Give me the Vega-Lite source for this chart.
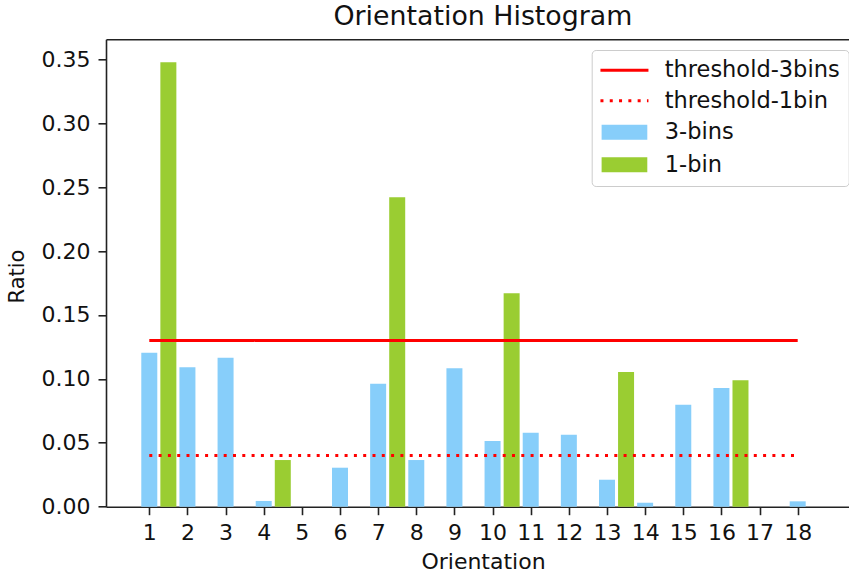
{
  "$schema": "https://vega.github.io/schema/vega-lite/v6.json",
  "width": 743,
  "height": 467.4,
  "autosize": {"type": "none"},
  "padding": {"left": 106, "top": 39.3, "right": 0, "bottom": 67.3},
  "background": "white",
  "title": {
    "text": "Orientation Histogram",
    "fontSize": 26.8,
    "fontWeight": "normal",
    "font": "DejaVu Sans",
    "color": "#111111",
    "anchor": "middle",
    "dx": 5.4,
    "dy": 23,
    "offset": 11,
    "baseline": "alphabetic"
  },
  "resolve": {"axis": {"x": "independent", "y": "independent"}},
  "datasets": {
    "bars": [
      {"orientation": 1, "series": "3-bins", "ratio": 0.1205},
      {"orientation": 2, "series": "3-bins", "ratio": 0.109},
      {"orientation": 3, "series": "3-bins", "ratio": 0.1166},
      {"orientation": 4, "series": "3-bins", "ratio": 0.0045},
      {"orientation": 5, "series": "3-bins", "ratio": 0},
      {"orientation": 6, "series": "3-bins", "ratio": 0.0305},
      {"orientation": 7, "series": "3-bins", "ratio": 0.0962},
      {"orientation": 8, "series": "3-bins", "ratio": 0.0365},
      {"orientation": 9, "series": "3-bins", "ratio": 0.1083},
      {"orientation": 10, "series": "3-bins", "ratio": 0.0514},
      {"orientation": 11, "series": "3-bins", "ratio": 0.0579},
      {"orientation": 12, "series": "3-bins", "ratio": 0.0563},
      {"orientation": 13, "series": "3-bins", "ratio": 0.0211},
      {"orientation": 14, "series": "3-bins", "ratio": 0.0031},
      {"orientation": 15, "series": "3-bins", "ratio": 0.0798},
      {"orientation": 16, "series": "3-bins", "ratio": 0.0929},
      {"orientation": 17, "series": "3-bins", "ratio": 0},
      {"orientation": 18, "series": "3-bins", "ratio": 0.0042},
      {"orientation": 1, "series": "1-bin", "ratio": 0.3477},
      {"orientation": 4, "series": "1-bin", "ratio": 0.0365},
      {"orientation": 7, "series": "1-bin", "ratio": 0.242},
      {"orientation": 10, "series": "1-bin", "ratio": 0.167},
      {"orientation": 13, "series": "1-bin", "ratio": 0.1054},
      {"orientation": 16, "series": "1-bin", "ratio": 0.0989}
    ],
    "thresholds": [
      {"series": "threshold-3bins", "value": 0.13, "start": 1, "end": 18},
      {"series": "threshold-1bin", "value": 0.04, "start": 1, "end": 18}
    ]
  },
  "layer": [
    {
      "data": {"name": "bars"},
      "transform": [{"filter": "datum.series === '3-bins'"}],
      "mark": {"type": "bar", "width": 16},
      "encoding": {
        "x": {
          "field": "orientation",
          "type": "quantitative",
          "scale": {"domain": [-0.135, 19.345], "nice": false, "zero": false, "padding": 0},
          "axis": {
            "orient": "bottom",
            "values": [1, 2, 3, 4, 5, 6, 7, 8, 9, 10, 11, 12, 13, 14, 15, 16, 17, 18],
            "format": "d",
            "labelPadding": 8,
            "labelOverlap": false,
            "labelFlush": false,
            "title": "Orientation",
            "titleX": 377,
            "titleY": 61.3,
            "titleBaseline": "alphabetic",
            "titleFontSize": 22
          }
        },
        "y": {
          "field": "ratio",
          "type": "quantitative",
          "scale": {"domain": [0, 0.3656], "nice": false, "padding": 0},
          "axis": {
            "orient": "left",
            "values": [0, 0.05, 0.1, 0.15, 0.2, 0.25, 0.3, 0.35],
            "format": ".2f",
            "labelPadding": 8,
            "labelFlush": false,
            "title": "Ratio",
            "titleX": -82.7,
            "titleY": 236.7,
            "titleBaseline": "alphabetic",
            "titleFontSize": 21
          }
        },
        "color": {
          "field": "series",
          "type": "nominal",
          "scale": {
            "domain": ["threshold-3bins", "threshold-1bin", "3-bins", "1-bin"],
            "range": ["#ff0000", "#ff0000", "#87cefa", "#9acd32"]
          },
          "legend": {
            "orient": "none",
            "legendX": 485.7,
            "legendY": 10.7,
            "title": null,
            "padding": 9,
            "fillColor": "white",
            "strokeColor": "#cccccc",
            "cornerRadius": 4,
            "labelFontSize": 22.5,
            "labelFont": "DejaVu Sans",
            "labelColor": "#111111",
            "labelLimit": 400,
            "symbolSize": 100,
            "symbolStrokeWidth": 3,
            "symbolOffset": 12.5,
            "labelOffset": 29,
            "rowPadding": 7.5,
            "encode": {
              "symbols": {
                "update": {
                  "shape": {"signal": "(datum.value === '3-bins' || datum.value === '1-bin') ? 'M-4.27,-1.2H4.27V1.2H-4.27Z' : 'M-4.8,0H4.8'"},
                  "fill": {"signal": "datum.value === '3-bins' ? '#87cefa' : (datum.value === '1-bin' ? '#9acd32' : 'transparent')"},
                  "stroke": {"signal": "(datum.value === 'threshold-3bins' || datum.value === 'threshold-1bin') ? '#ff0000' : 'transparent'"},
                  "strokeDash": {"signal": "datum.value === 'threshold-1bin' ? [3, 6.3] : [1, 0]"},
                  "strokeWidth": {"value": 3},
                  "opacity": {"value": 1},
                  "fillOpacity": {"value": 1},
                  "strokeOpacity": {"value": 1}
                }
              }
            }
          }
        }
      }
    },
    {
      "data": {"name": "bars"},
      "transform": [{"filter": "datum.series === '1-bin'"}],
      "mark": {"type": "bar", "width": 16, "xOffset": 19.07},
      "encoding": {
        "x": {"field": "orientation", "type": "quantitative", "axis": null},
        "y": {"field": "ratio", "type": "quantitative", "axis": null},
        "color": {"field": "series", "type": "nominal"}
      }
    },
    {
      "data": {"name": "thresholds"},
      "mark": {"type": "rule", "strokeWidth": 3, "strokeCap": "butt"},
      "encoding": {
        "x": {
          "field": "start",
          "type": "quantitative",
          "axis": {"orient": "top", "domain": true, "ticks": false, "labels": false, "title": null}
        },
        "x2": {"field": "end"},
        "y": {"field": "value", "type": "quantitative", "axis": null},
        "color": {"field": "series", "type": "nominal"},
        "strokeDash": {
          "field": "series",
          "type": "nominal",
          "scale": {"domain": ["threshold-3bins", "threshold-1bin"], "range": [[1, 0], [3, 6.3]]},
          "legend": null
        }
      }
    }
  ],
  "config": {
    "view": {"stroke": null},
    "font": "DejaVu Sans",
    "axis": {
      "grid": false,
      "domainColor": "#222222",
      "tickColor": "#222222",
      "labelColor": "#111111",
      "titleColor": "#111111",
      "domainWidth": 1.6,
      "tickWidth": 1.6,
      "tickSize": 8,
      "labelFontSize": 22,
      "titleFontSize": 22,
      "labelFont": "DejaVu Sans",
      "titleFont": "DejaVu Sans",
      "titleFontWeight": "normal"
    }
  }
}
